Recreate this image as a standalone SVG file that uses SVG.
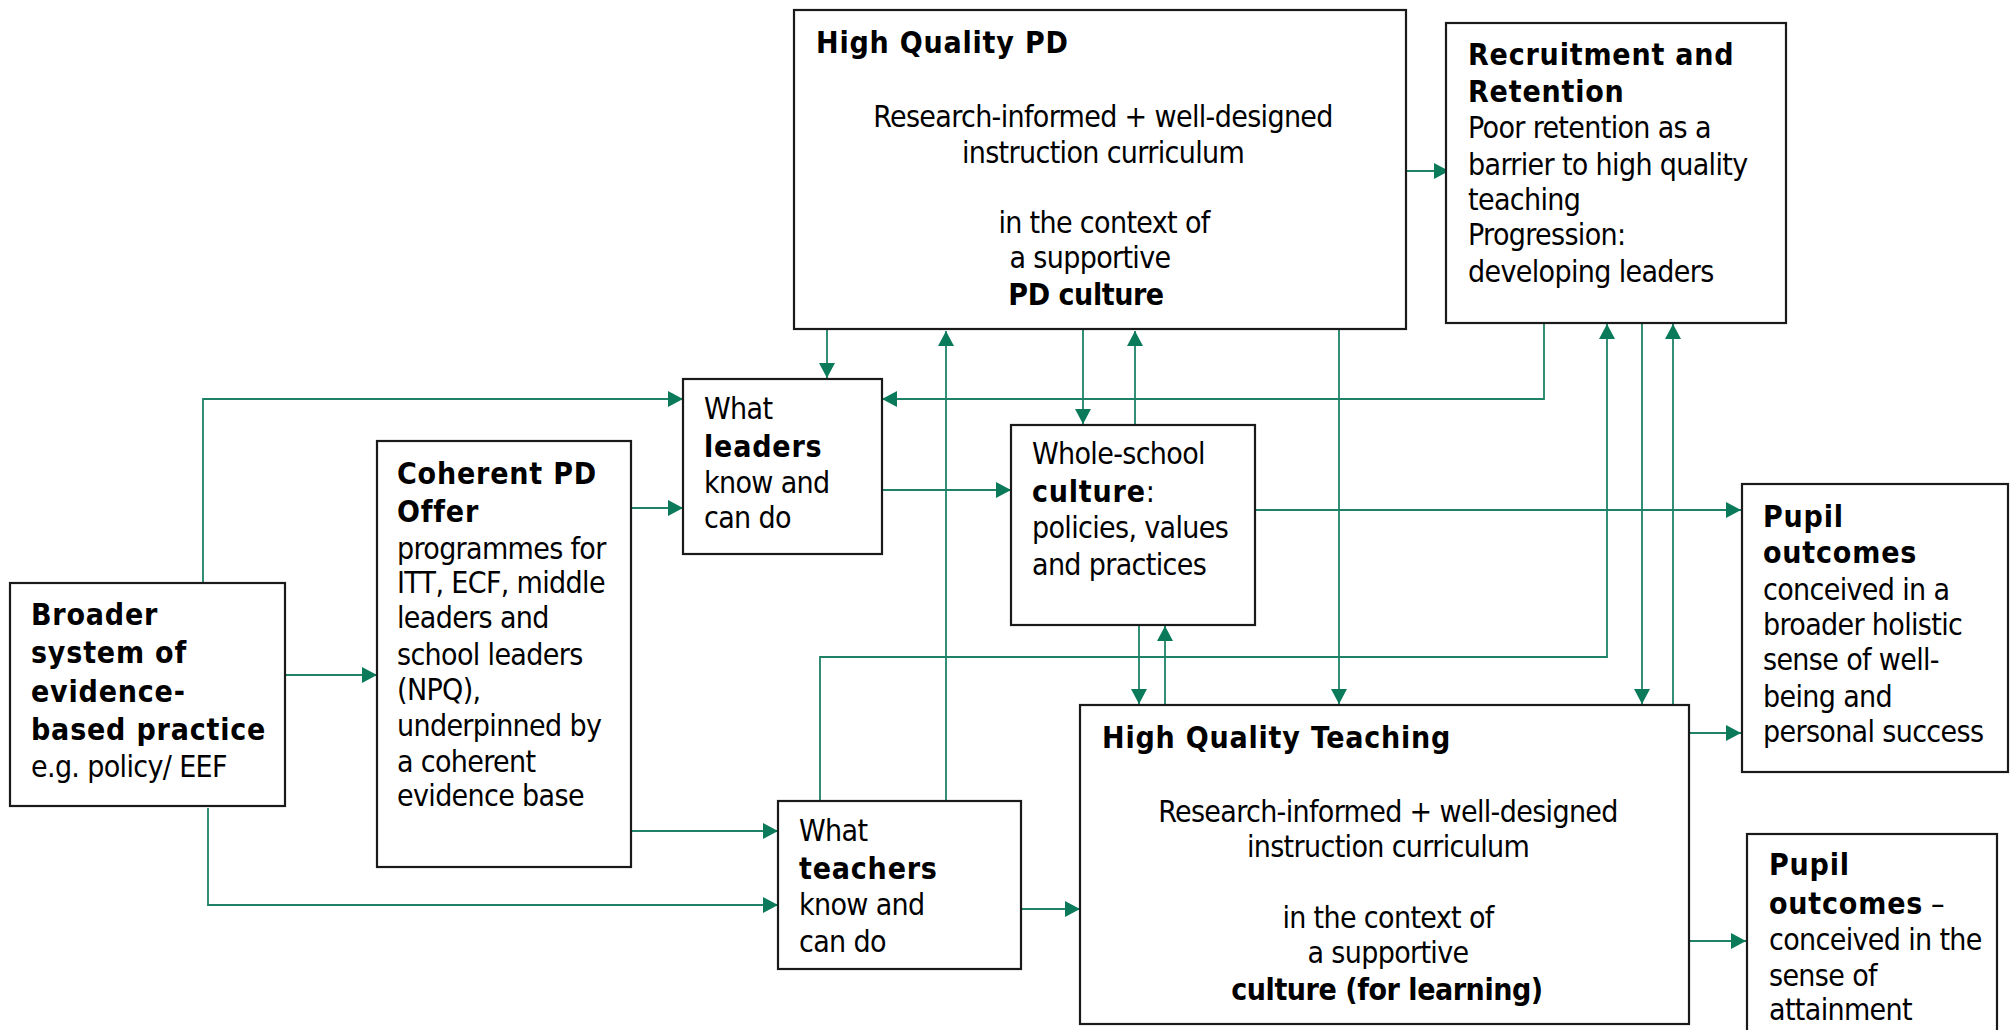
<svg xmlns="http://www.w3.org/2000/svg" width="2010" height="1030" viewBox="0 0 2010 1030">
<style>
.box{fill:#fff;stroke:#1a1a1a;stroke-width:2.2}
.t{font-family:"DejaVu Sans Condensed","DejaVu Sans",sans-serif;font-size:30px;fill:#000;letter-spacing:-0.65px}
.b{font-weight:bold;letter-spacing:0.8px}
.n{letter-spacing:-0.45px}
.c{text-anchor:middle}
.cn{fill:none;stroke:#1f8166;stroke-width:1.8}
.a{marker-end:url(#ah)}
</style>
<defs>
<marker id="ah" markerUnits="userSpaceOnUse" markerWidth="16" markerHeight="16" refX="15" refY="8" orient="auto">
<path d="M0,0 L15,8 L0,16 z" fill="#0b7a5a"/>
</marker>
</defs>
<rect width="2010" height="1030" fill="#fff"/>
<g id="connectors">
<path class="cn a" d="M827,330 V378"/>
<path class="cn a" d="M946,801 V331"/>
<path class="cn a" d="M1083,330 V424"/>
<path class="cn a" d="M1135,425 V331"/>
<path class="cn a" d="M1339,330 V704"/>
<path class="cn a" d="M1406,171 H1449"/>
<path class="cn a" d="M1544,323 V399 H882"/>
<path class="cn a" d="M820,801 V657 H1607 V324"/>
<path class="cn a" d="M1642,323 V704"/>
<path class="cn a" d="M1673,705 V324"/>
<path class="cn a" d="M203,583 V399 H683"/>
<path class="cn a" d="M631,508 H683"/>
<path class="cn a" d="M285,675 H377"/>
<path class="cn a" d="M631,831 H778"/>
<path class="cn a" d="M208,808 V905 H778"/>
<path class="cn a" d="M882,490 H1011"/>
<path class="cn a" d="M1255,510 H1741"/>
<path class="cn a" d="M1139,625 V704"/>
<path class="cn a" d="M1165,704 V626"/>
<path class="cn a" d="M1021,909 H1080"/>
<path class="cn a" d="M1689,733 H1741"/>
<path class="cn a" d="M1689,941 H1746"/>
</g>
<g id="hqpd">
<rect class="box" x="794" y="10" width="612" height="319"/>
<text class="t b" x="816" y="53">High Quality PD</text>
<text class="t c" x="1103" y="127">Research-informed + well-designed</text>
<text class="t c" x="1103" y="163">instruction curriculum</text>
<text class="t c" x="1104" y="233">in the context of</text>
<text class="t c" x="1090" y="268">a supportive</text>
<text class="t c b n" x="1086" y="305">PD culture</text>
</g>
<g id="recruitment">
<rect class="box" x="1446" y="23" width="340" height="300"/>
<text class="t b" x="1468" y="65">Recruitment and</text>
<text class="t b" x="1468" y="102">Retention</text>
<text class="t" x="1468" y="138">Poor retention as a</text>
<text class="t" x="1468" y="175">barrier to high quality</text>
<text class="t" x="1468" y="210">teaching</text>
<text class="t" x="1468" y="245">Progression:</text>
<text class="t" x="1468" y="282">developing leaders</text>
</g>
<g id="broader">
<rect class="box" x="10" y="583" width="275" height="223"/>
<text class="t b" x="31" y="625">Broader</text>
<text class="t b" x="31" y="663">system of</text>
<text class="t b" x="31" y="702">evidence-</text>
<text class="t b" x="31" y="740">based practice</text>
<text class="t" x="31" y="777">e.g. policy/ EEF</text>
</g>
<g id="coherent">
<rect class="box" x="377" y="441" width="254" height="426"/>
<text class="t b" x="397" y="484">Coherent PD</text>
<text class="t b" x="397" y="522">Offer</text>
<text class="t" x="397" y="559">programmes for</text>
<text class="t" x="397" y="593">ITT, ECF, middle</text>
<text class="t" x="397" y="628">leaders and</text>
<text class="t" x="397" y="665">school leaders</text>
<text class="t" x="397" y="700">(NPQ),</text>
<text class="t" x="397" y="736">underpinned by</text>
<text class="t" x="397" y="772">a coherent</text>
<text class="t" x="397" y="806">evidence base</text>
</g>
<g id="leaders">
<rect class="box" x="683" y="379" width="199" height="175"/>
<text class="t" x="704" y="419">What</text>
<text class="t b" x="704" y="457">leaders</text>
<text class="t" x="704" y="493">know and</text>
<text class="t" x="704" y="528">can do</text>
</g>
<g id="culture">
<rect class="box" x="1011" y="425" width="244" height="200"/>
<text class="t" x="1032" y="464">Whole-school</text>
<text class="t" x="1032" y="502"><tspan class="b">culture</tspan>:</text>
<text class="t" x="1032" y="538">policies, values</text>
<text class="t" x="1032" y="575">and practices</text>
</g>
<g id="teachers">
<rect class="box" x="778" y="801" width="243" height="168"/>
<text class="t" x="799" y="841">What</text>
<text class="t b" x="799" y="879">teachers</text>
<text class="t" x="799" y="915">know and</text>
<text class="t" x="799" y="952">can do</text>
</g>
<g id="teaching">
<rect class="box" x="1080" y="705" width="609" height="319"/>
<text class="t b" x="1102" y="748">High Quality Teaching</text>
<text class="t c" x="1388" y="822">Research-informed + well-designed</text>
<text class="t c" x="1388" y="857">instruction curriculum</text>
<text class="t c" x="1388" y="928">in the context of</text>
<text class="t c" x="1388" y="963">a supportive</text>
<text class="t c b n" x="1387" y="1000">culture (for learning)</text>
</g>
<g id="pupil1">
<rect class="box" x="1742" y="484" width="266" height="288"/>
<text class="t b" x="1763" y="527">Pupil</text>
<text class="t b" x="1763" y="563">outcomes</text>
<text class="t" x="1763" y="600">conceived in a</text>
<text class="t" x="1763" y="635">broader holistic</text>
<text class="t" x="1763" y="670">sense of well-</text>
<text class="t" x="1763" y="707">being and</text>
<text class="t" x="1763" y="742">personal success</text>
</g>
<g id="pupil2">
<rect class="box" x="1747" y="834" width="250" height="200"/>
<text class="t b" x="1769" y="875">Pupil</text>
<text class="t" x="1769" y="914"><tspan class="b">outcomes</tspan> –</text>
<text class="t" x="1769" y="950">conceived in the</text>
<text class="t" x="1769" y="986">sense of</text>
<text class="t" x="1769" y="1020">attainment</text>
</g>
</svg>
